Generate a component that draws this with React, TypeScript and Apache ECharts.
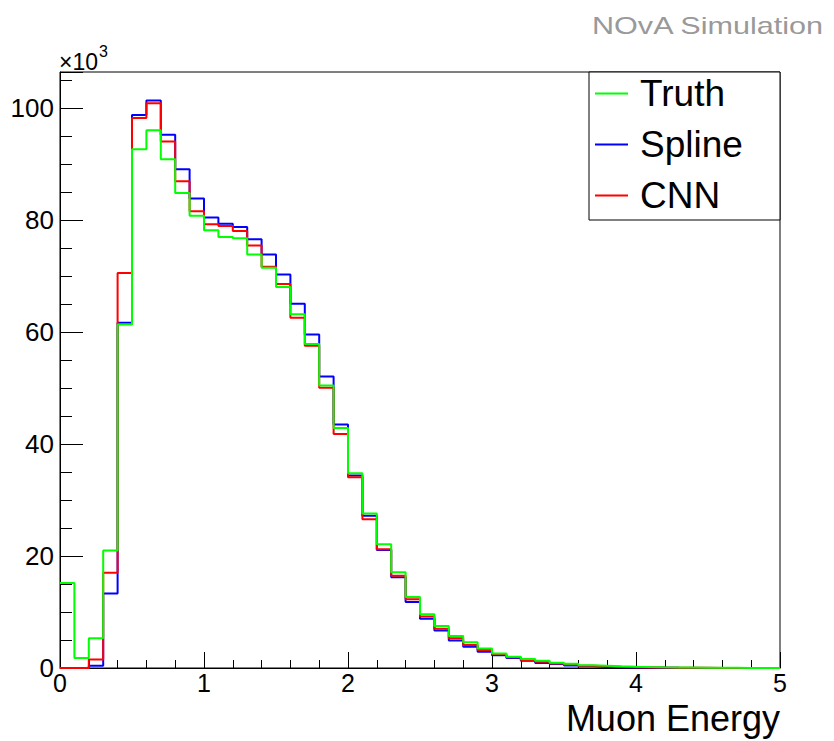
import React, { useEffect, useRef } from 'react';
import * as echarts from 'echarts';

// ---- data (values in units of 10^3 entries per 0.1 bin) ----
const BIN_WIDTH = 0.1;
const X_MIN = 0;
const X_MAX = 5;
const Y_MAX = 106.5;
const xTickLabels = ['0', '1', '2', '3', '4', '5'];
const seriesNames = ['Truth', 'Spline', 'CNN'];
const seriesColors = ['#00ff00', '#0000ff', '#ff0000'];

const truth = [
  15.2, 1.8, 5.3, 21.0, 61.4, 92.7, 96.1, 90.9, 84.9, 80.8,
  78.2, 77.0, 76.8, 73.9, 71.5, 68.1, 63.2, 57.9, 50.5, 42.9,
  34.8, 27.6, 22.1, 17.1, 12.7, 9.6, 7.5, 5.7, 4.6, 3.5,
  2.6, 2.0, 1.6, 1.3, 0.95, 0.75, 0.5, 0.4, 0.3, 0.22,
  0.16, 0.12, 0.09, 0.07, 0.05, 0.04, 0.03, 0.02, 0.02, 0.01,
];
const spline = [
  0, 0, 0.4, 13.3, 61.7, 98.8, 101.4, 95.3, 89.1, 83.9,
  80.5, 79.4, 78.8, 76.6, 73.9, 70.3, 65.1, 59.6, 52.1, 43.5,
  34.4, 27.2, 21.1, 16.2, 11.8, 8.8, 6.7, 4.9, 3.8, 2.9,
  2.3, 1.8, 1.3, 0.9, 0.7, 0.45, 0.3, 0.2, 0.15, 0.1,
  0.07, 0.05, 0.03, 0.02, 0.02, 0.01, 0.01, 0.01, 0, 0,
];
const cnn = [
  0, 0, 1.5, 17.0, 70.6, 98.3, 100.9, 94.1, 87.0, 81.6,
  79.3, 79.0, 78.1, 75.5, 71.7, 68.6, 62.6, 57.6, 50.1, 41.8,
  34.1, 26.6, 21.2, 16.5, 12.3, 9.2, 7.0, 5.3, 4.1, 3.2,
  2.5, 1.9, 1.45, 1.1, 0.8, 0.6, 0.4, 0.3, 0.2, 0.15,
  0.1, 0.07, 0.05, 0.04, 0.03, 0.02, 0.01, 0.01, 0.01, 0,
];

const FONT = '"Liberation Sans", Arial, Helvetica, sans-serif';

function toSteps(vals: number[]) {
  const pts = vals.map((v, i) => [X_MIN + i * BIN_WIDTH, v]);
  pts.push([X_MIN + vals.length * BIN_WIDTH, vals[vals.length - 1]]);
  return pts;
}

export default function App() {
  const ref = useRef<HTMLDivElement>(null);
  useEffect(() => {
    const chart = echarts.init(ref.current!, null, { renderer: 'svg' });
    const histo = (name: string, vals: number[], color: string) => ({
      name,
      type: 'line',
      step: 'end',
      data: toSteps(vals),
      showSymbol: false,
      symbol: 'none',
      color,
      lineStyle: { color, width: 2 },
      itemStyle: { color },
    });
    chart.setOption({
      animation: false,
      textStyle: { fontFamily: FONT },
      grid: {
        left: 60,
        top: 72,
        width: 720,
        height: 596,
        show: true,
        borderColor: '#000',
        borderWidth: 1,
        backgroundColor: 'transparent',
      },
      xAxis: {
        type: 'value',
        min: X_MIN,
        max: X_MAX,
        interval: 1,
        axisLine: { show: true, lineStyle: { color: '#000', width: 1 } },
        axisTick: { show: true, inside: true, length: 16, lineStyle: { color: '#000' } },
        minorTick: { show: true, splitNumber: 5, length: 8, lineStyle: { color: '#000' } },
        splitLine: { show: false },
        minorSplitLine: { show: false },
        axisLabel: {
          fontSize: 25,
          lineHeight: 20,
          color: '#000',
          fontFamily: FONT,
          margin: 5,
          formatter: (v: number) => xTickLabels[Math.round(v)] ?? '',
        },
      },
      yAxis: [
        {
          type: 'value',
          min: 0,
          max: Y_MAX,
          interval: 20,
          axisLine: { show: true, lineStyle: { color: '#000', width: 1 } },
          axisTick: { show: true, inside: true, length: 23, lineStyle: { color: '#000' } },
          splitLine: { show: false },
          axisLabel: {
            fontSize: 26,
            color: '#000',
            fontFamily: FONT,
            margin: 6,
            formatter: (v: number) => (v % 20 === 0 ? String(v) : ''),
          },
        },
        {
          type: 'value',
          min: 0,
          max: Y_MAX,
          interval: 5,
          position: 'left',
          axisLine: { show: false },
          axisTick: { show: true, inside: true, length: 12, lineStyle: { color: '#000' } },
          splitLine: { show: false },
          axisLabel: { show: false },
        },
      ],
      legend: {
        data: seriesNames,
        orient: 'vertical',
        left: 595,
        top: 75,
        padding: 0,
        itemGap: 14,
        itemWidth: 33,
        itemHeight: 2,
        icon: 'rect',
        z: 10,
        textStyle: {
          fontSize: 37,
          color: '#000',
          fontFamily: FONT,
          lineHeight: 37,
          padding: [0, 0, 0, 7],
        },
      },
      series: [
        histo(seriesNames[1], spline, seriesColors[1]),
        histo(seriesNames[2], cnn, seriesColors[2]),
        histo(seriesNames[0], truth, seriesColors[0]),
      ],
      graphic: [
        {
          type: 'rect',
          z: 5,
          shape: { x: 589, y: 72, width: 191, height: 148 },
          style: { fill: '#fff', stroke: '#000', lineWidth: 1 },
        },
        {
          type: 'text',
          x: 592,
          y: 26.7,
          scaleX: 1.33,
          style: {
            text: 'NOvA Simulation',
            fontSize: 23,
            fontFamily: FONT,
            fill: '#999999',
            align: 'left',
            verticalAlign: 'middle',
          },
        },
        {
          type: 'text',
          x: 59,
          y: 62,
          style: {
            text: '×10',
            fontSize: 23,
            fontFamily: FONT,
            fill: '#000',
            align: 'left',
            verticalAlign: 'middle',
          },
        },
        {
          type: 'text',
          x: 99,
          y: 51,
          style: {
            text: '3',
            fontSize: 16,
            fontFamily: FONT,
            fill: '#000',
            align: 'left',
            verticalAlign: 'middle',
          },
        },
        {
          type: 'text',
          x: 780,
          y: 718.5,
          style: {
            text: 'Muon Energy',
            fontSize: 36,
            lineHeight: 28,
            fontFamily: FONT,
            fill: '#000',
            align: 'right',
            verticalAlign: 'middle',
          },
        },
      ],
    });
    return () => chart.dispose();
  }, []);
  return (
    <div
      ref={ref}
      style={{ position: 'absolute', left: 0, top: 0, width: 834, height: 741 }}
    />
  );
}
